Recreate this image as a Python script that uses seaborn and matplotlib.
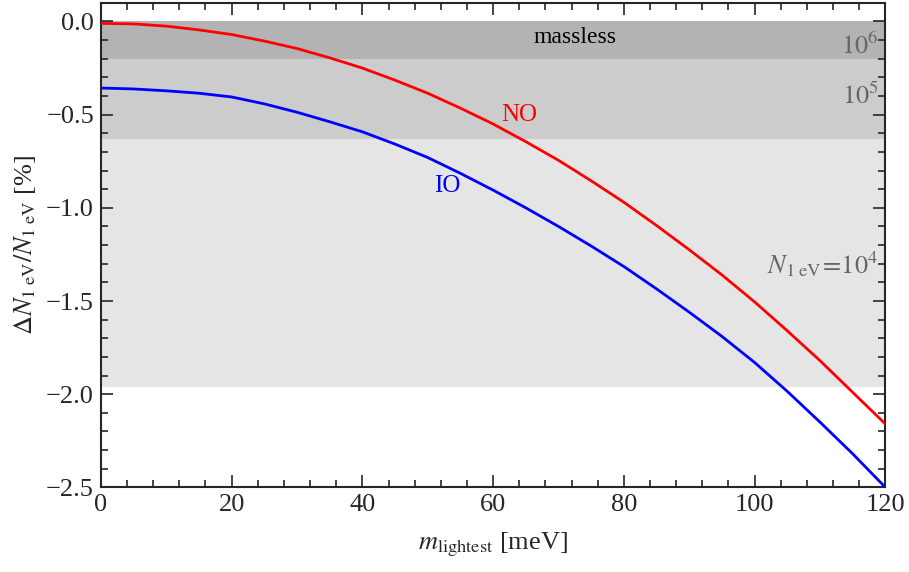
import numpy as np
import pandas as pd
import matplotlib
matplotlib.use("Agg")
import matplotlib.pyplot as plt
import seaborn as sns
from matplotlib.ticker import MultipleLocator

# valores
m_lightest = [0, 5, 10, 15, 20, 25, 30, 35, 40, 45, 50, 55, 60,
              65, 70, 75, 80, 85, 90, 95, 100, 105, 110, 115, 120]
delta_no = [-0.01, -0.013, -0.025, -0.045, -0.07, -0.105, -0.145, -0.195, -0.25, -0.315, -0.385, -0.465, -0.55,
            -0.645, -0.745, -0.855, -0.97, -1.095, -1.225, -1.36, -1.505, -1.66, -1.82, -1.99, -2.16]
delta_io = [-0.357, -0.362, -0.372, -0.385, -0.405, -0.442, -0.487, -0.538, -0.592, -0.658, -0.73, -0.815, -0.905,
            -1.0, -1.10, -1.205, -1.315, -1.435, -1.56, -1.69, -1.83, -1.985, -2.15, -2.32, -2.50]

# faixas de sensibilidade (topo, base)
band_limits = [(0.0, -0.2), (-0.2, -0.63), (-0.63, -1.96)]
band_colors = ["#b3b3b3", "#cccccc", "#e5e5e5"]

sns.set_style("ticks")
plt.rcParams["font.family"] = ["Liberation Serif", "DejaVu Serif"]
plt.rcParams["mathtext.fontset"] = "stix"

df = pd.DataFrame({"m": m_lightest * 2,
                   "delta": delta_no + delta_io,
                   "ordering": ["NO"] * len(m_lightest) + ["IO"] * len(m_lightest)})

fig = plt.figure(figsize=(9.09, 5.72), dpi=100)
ax = fig.add_axes([0.111, 0.148, 0.863, 0.847])

for (top, bottom), color in zip(band_limits, band_colors):
    ax.axhspan(bottom, top, color=color, lw=0, zorder=0)

sns.lineplot(data=df, x="m", y="delta", hue="ordering",
             palette={"NO": "#ff0000", "IO": "#0000ff"}, lw=2,
             legend=False, ax=ax, zorder=3)

ax.set_xlim(0, 120)
ax.set_ylim(-2.5, 0.1)
ax.xaxis.set_major_locator(MultipleLocator(20))
ax.xaxis.set_minor_locator(MultipleLocator(4))
ax.yaxis.set_major_locator(MultipleLocator(0.5))
ax.yaxis.set_minor_locator(MultipleLocator(0.1))
ax.tick_params(which="both", direction="in", top=True, right=True, width=1.2, labelsize=19)
ax.tick_params(which="major", length=8.5, pad=5)
ax.tick_params(which="minor", length=5)
for s in ax.spines.values():
    s.set_linewidth(1.5)

ax.set_xlabel(r"$m_{\mathrm{lightest}}$ [meV]", fontsize=19, labelpad=10)
ax.set_ylabel(r"$\Delta N_{1\ \mathrm{eV}}/N_{1\ \mathrm{eV}}$ [%]", fontsize=19, labelpad=6)

gray = "#666666"
ax.text(72.5, -0.085, "massless", fontsize=17, ha="center", va="center", color="black")
ax.text(119, -0.13, r"$10^6$", fontsize=19, ha="right", va="center", color=gray)
ax.text(119, -0.40, r"$10^5$", fontsize=19, ha="right", va="center", color=gray)
ax.text(119, -1.30, r"$N_{1\ \mathrm{eV}}\!=\!10^4$", fontsize=19, ha="right", va="center", color=gray)
ax.text(64, -0.50, "NO", fontsize=18, ha="center", va="center", color="#ff0000")
ax.text(53, -0.885, "IO", fontsize=18, ha="center", va="center", color="#0000ff")

fig.savefig("out.png", dpi=100)
